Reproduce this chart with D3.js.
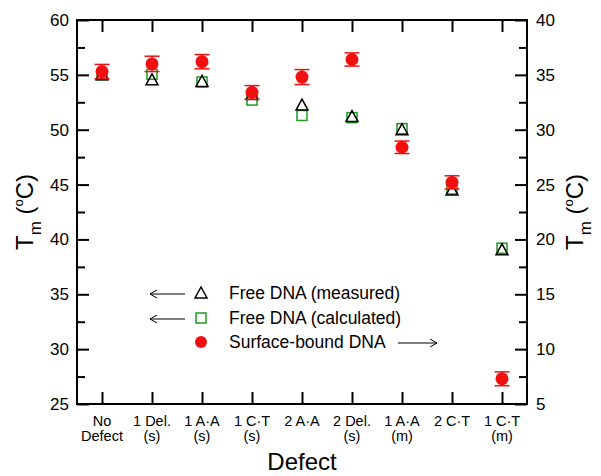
<!DOCTYPE html>
<html><head><meta charset="utf-8">
<script src="https://cdn.jsdelivr.net/npm/d3@7"></script>
<style>
html,body{margin:0;padding:0;background:#fff;}
svg{display:block;font-family:"Liberation Sans",Arial,Helvetica,sans-serif;}
</style></head>
<body><svg id="c" width="601" height="476"></svg>
<script>
const categories = [["No","Defect"],["1 Del.","(s)"],["1 A\u00B7A","(s)"],["1 C\u00B7T","(s)"],["2 A\u00B7A"],["2 Del.","(s)"],["1 A\u00B7A","(m)"],["2 C\u00B7T"],["1 C\u00B7T","(m)"]];
const freeMeasured = [55.0, 54.55, 54.4, 53.2, 52.25, 51.2, 50.0, 44.5, 39.05];
const freeCalculated = [55.0, 55.05, 54.35, 52.7, 51.3, 51.1, 50.1, 44.6, 39.2];
const surfaceBound = [35.3, 36.0, 36.2, 33.4, 34.8, 36.4, 28.4, 25.2, 7.3];
const surfaceErr = [0.65, 0.7, 0.65, 0.62, 0.68, 0.6, 0.57, 0.6, 0.63];
const leftTicks = [25,30,35,40,45,50,55,60];
const rightTicks = [5,10,15,20,25,30,35,40];
const legendLabels = ["Free DNA (measured)","Free DNA (calculated)","Surface-bound DNA"];

const svg = d3.select("#c");
const L=77,R=527,T=20,B=404;
const x = d3.scalePoint().domain(d3.range(categories.length)).range([L,R]).padding(0.5);
const yL = d3.scaleLinear().domain([25,60]).range([B,T]);
const yR = d3.scaleLinear().domain([5,40]).range([B,T]);
const red="#f01010", green="#1e9a1e";

function styleAxis(g){ g.select(".domain").remove(); g.selectAll(".tick line").attr("stroke","#000").attr("stroke-width",2); g.selectAll("text").attr("font-size",17).attr("fill","#000").attr("font-family","Liberation Sans, Arial, sans-serif"); }
const minorL = d3.range(27.5,60,5), minorR = d3.range(7.5,40,5);
svg.append("g").attr("transform",`translate(${L},0)`).call(d3.axisLeft(yL).tickValues(leftTicks).tickSize(-12).tickPadding(8)).call(styleAxis);
svg.append("g").attr("transform",`translate(${L},0)`).call(d3.axisLeft(yL).tickValues(minorL).tickSize(-8).tickFormat("")).call(styleAxis);
svg.append("g").attr("transform",`translate(${R},0)`).call(d3.axisRight(yR).tickValues(rightTicks).tickSize(-12).tickPadding(9)).call(styleAxis);
svg.append("g").attr("transform",`translate(${R},0)`).call(d3.axisRight(yR).tickValues(minorR).tickSize(-8).tickFormat("")).call(styleAxis);
svg.append("g").attr("transform",`translate(0,${B})`).call(d3.axisBottom(x).tickSize(-12).tickFormat("")).call(styleAxis);
svg.append("g").attr("transform",`translate(0,${T})`).call(d3.axisTop(x).tickSize(-12).tickFormat("")).call(styleAxis);
svg.append("rect").attr("x",L).attr("y",T).attr("width",R-L).attr("height",B-T).attr("fill","none").attr("stroke","#000").attr("stroke-width",2);

// x category labels
const xl = svg.append("g");
categories.forEach((c,i)=>{
  c.forEach((s,j)=>xl.append("text").attr("x",x(i)).attr("y",426+j*15).attr("text-anchor","middle").attr("font-size",14.5).text(s));
});
svg.append("text").attr("x",(L+R)/2).attr("y",470).attr("text-anchor","middle").attr("font-size",24).text("Defect");

function yTitle(xpos){
  const t = svg.append("text").attr("transform",`translate(${xpos},${(T+B)/2}) rotate(-90)`).attr("text-anchor","middle").attr("font-size",24);
  t.append("tspan").text("T");
  t.append("tspan").attr("font-size",17).attr("dy",8).text("m");
  t.append("tspan").attr("dy",-8).text(" (");
  t.append("tspan").attr("font-size",13).attr("dy",-10).text("o");
  t.append("tspan").attr("dy",10).text("C)");
}
yTitle(33); yTitle(583);

// markers
function tri(g,cx,cy){ g.append("path").attr("d",`M${cx},${cy-6}L${cx-6},${cy+5}L${cx+6},${cy+5}Z`).attr("fill","none").attr("stroke","#000").attr("stroke-width",1.5); }
function sq(g,cx,cy){ g.append("rect").attr("x",cx-5).attr("y",cy-5).attr("width",10).attr("height",10).attr("fill","none").attr("stroke",green).attr("stroke-width",1.5); }
const gm = svg.append("g");
freeCalculated.forEach((v,i)=>sq(gm,x(i),yL(v)));
freeMeasured.forEach((v,i)=>tri(gm,x(i),yL(v)));
surfaceBound.forEach((v,i)=>{
  const cx=x(i), y0=yR(v-surfaceErr[i]), y1=yR(v+surfaceErr[i]);
  gm.append("line").attr("x1",cx).attr("x2",cx).attr("y1",y0).attr("y2",y1).attr("stroke",red).attr("stroke-width",1.5);
  [y0,y1].forEach(yy=>gm.append("line").attr("x1",cx-7.5).attr("x2",cx+7.5).attr("y1",yy).attr("y2",yy).attr("stroke",red).attr("stroke-width",1.5));
  gm.append("circle").attr("cx",cx).attr("cy",yR(v)).attr("r",6.5).attr("fill",red);
});

// legend
const lg = svg.append("g");
const rows=[293,318,342], mx=201, tx=229;
function arrow(x1,x2,y){
  lg.append("line").attr("x1",x1).attr("x2",x2).attr("y1",y).attr("y2",y).attr("stroke","#000").attr("stroke-width",1);
  const d = x2>x1?-1:1;
  lg.append("path").attr("d",`M${x2+d*7},${y-4}L${x2},${y}L${x2+d*7},${y+4}`).attr("fill","none").attr("stroke","#000").attr("stroke-width",1);
}
tri(lg,mx,rows[0]); sq(lg,mx,rows[1]); lg.append("circle").attr("cx",mx).attr("cy",rows[2]).attr("r",6).attr("fill",red);
legendLabels.forEach((s,i)=>lg.append("text").attr("x",tx).attr("y",rows[i]+6).attr("font-size",17.5).text(s));
arrow(185,150,rows[0]+1); arrow(185,150,rows[1]+1); arrow(398,437,rows[2]+1);
</script></body></html>
